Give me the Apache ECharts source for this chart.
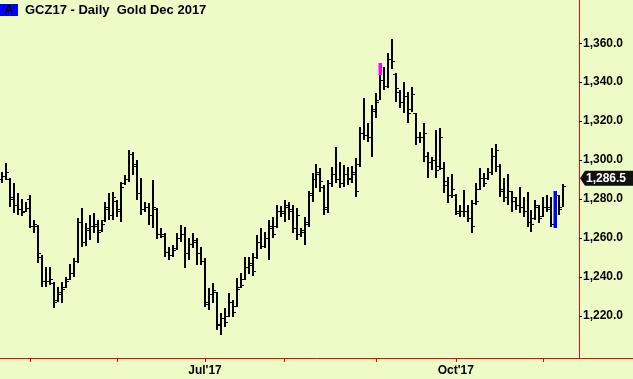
<!DOCTYPE html>
<html>
<head>
<meta charset="utf-8">
<script src="https://cdn.jsdelivr.net/npm/echarts@6.0.0/dist/echarts.min.js"></script>
<style>
html,body{margin:0;padding:0;background:#EDFCC7;}
#chart{width:633px;height:379px;}
</style>
</head>
<body>
<div id="chart"></div>
<script>
const titleText = "GCZ17 - Daily  Gold Dec 2017";
const totalSlots = 159;
const monthTickIdx = [7, 29, 51, 71, 94, 114, 136];
const monthTickLabels = ["", "", "Jul'17", "", "", "Oct'17", ""];
const yTickValues = [1220, 1240, 1260, 1280, 1300, 1320, 1340, 1360];

const opens = [1290,1292,1290,1281,1277,1275,1274,1280,1266,1266,
1250,1238,1238,1237,1228,1231,1235,1239,1242,1248,
1268,1258,1264,1266,1266,1264,1269,1275,1272,1279,
1274,1288,1290,1303,1298,1283,1275,1276,1272,1275,
1262,1261,1253,1251,1255,1260,1262,1252,1257,1258,
1252,1248,1227,1231,1232,1215,1219,1220,1227,1225,
1235,1239,1245,1246,1250,1258,1256,1260,1265,1266,
1274,1274,1276,1274,1265,1262,1263,1267,1283,1290,
1293,1286,1276,1288,1293,1290,1288,1293,1291,1293,
1298,1314,1313,1312,1326,1331,1341,1338,1352,1344,
1335,1330,1333,1326,1324,1312,1312,1302,1299,1300,
1297,1296,1289,1282,1282,1274,1274,1274,1270,1278,
1285,1291,1291,1294,1302,1297,1285,1281,1284,1279,
1277,1276,1274,1268,1270,1276,1271,1276,1276,1267,
1282,1276];
const highs = [1294.0,1298.6,1290.9,1288.3,1283.2,1280.1,1278.5,1282.1,1269.3,1266.7,
1251.3,1245.2,1245.2,1237.5,1234.9,1237.5,1240.1,1246.7,1249.8,1270.3,
1275.5,1267.8,1271.9,1272.9,1269.3,1269.3,1278.5,1283.2,1283.7,1279.6,
1288.8,1292.4,1305.2,1304.2,1300.1,1290.9,1278.5,1278.0,1289.8,1275.5,
1265.2,1262.6,1255.4,1256.5,1262.6,1266.7,1265.7,1260.1,1262.6,1260.1,
1255.4,1249.8,1234.4,1237.0,1232.4,1221.6,1224.1,1231.8,1228.2,1239.6,
1242.1,1250.3,1250.3,1252.4,1261.6,1265.2,1263.1,1269.3,1270.8,1277.0,
1276.5,1279.6,1278.5,1277.0,1275.5,1265.2,1270.8,1284.2,1293.4,1298.0,
1296.0,1287.3,1289.8,1296.5,1306.8,1299.1,1297.5,1296.5,1297.0,1301.1,
1317.0,1331.9,1319.1,1328.3,1334.5,1349.9,1347.8,1355.0,1362.2,1344.8,
1336.0,1340.1,1335.0,1337.6,1324.2,1314.5,1319.1,1304.2,1301.6,1315.5,
1316.5,1299.1,1291.4,1292.9,1282.7,1277.0,1284.7,1277.0,1279.6,1288.3,
1296.0,1293.4,1296.0,1306.3,1308.3,1298.0,1290.9,1292.9,1284.2,1281.1,
1286.2,1281.1,1283.7,1274.4,1279.6,1277.0,1281.1,1282.1,1281.1,1284.2,
1282.1,1287.8];
const lows = [1288.3,1289.8,1276.0,1272.9,1271.9,1271.4,1273.4,1265.2,1262.6,1247.2,
1234.9,1234.9,1236.0,1224.1,1227.2,1226.7,1234.4,1238.5,1240.1,1247.2,
1255.4,1256.0,1259.0,1262.6,1257.5,1263.1,1268.3,1269.3,1269.3,1270.8,
1268.3,1287.3,1288.8,1292.4,1279.6,1271.9,1273.4,1266.7,1265.2,1259.5,
1260.1,1250.3,1248.8,1250.3,1253.9,1258.0,1244.7,1248.8,1254.9,1246.2,
1246.2,1224.6,1223.1,1226.7,1212.9,1210.2,1214.4,1219.5,1219.5,1224.6,
1234.4,1238.5,1241.6,1240.6,1249.3,1254.4,1254.9,1248.8,1260.1,1265.2,
1270.8,1268.3,1269.3,1262.6,1259.0,1260.6,1256.5,1265.7,1278.5,1285.7,
1283.7,1271.9,1272.9,1286.2,1288.3,1285.7,1286.2,1287.3,1288.3,1281.1,
1296.5,1310.4,1309.3,1301.6,1321.6,1330.9,1336.0,1337.1,1346.8,1329.9,
1326.8,1324.2,1319.1,1324.7,1307.8,1308.8,1299.1,1290.9,1295.0,1290.9,
1295.0,1283.2,1278.0,1280.6,1271.9,1270.8,1270.8,1268.3,1262.6,1277.0,
1284.7,1286.2,1289.8,1292.4,1294.0,1281.1,1278.5,1277.0,1273.4,1274.4,
1272.9,1270.8,1265.7,1263.1,1269.3,1267.8,1270.8,1273.4,1265.7,1265.2,
1271.9,1276.0];
const closes = [1292,1294,1280,1277,1275,1273.5,1275.5,1266,1267,1252,
1238,1238,1239,1227,1232,1234,1238,1242,1248,1268,
1258,1265,1266,1267,1263,1267,1276,1272,1281,1275,
1286,1290,1303,1297,1283,1275,1276,1272,1276,1262,
1262,1253,1251,1254,1260,1262,1252,1257,1259,1252,
1248,1226,1231,1233,1216,1219,1217,1227,1222,1234,
1236,1245,1247,1243,1258,1256,1260,1266,1262,1274,
1273,1277,1275,1265,1272,1264,1268,1282,1290,1294,
1289,1275,1288,1293,1290,1288,1293,1290,1294,1284,
1314,1313,1312,1325,1330,1341,1338,1352,1351,1337,
1330,1333,1324,1334,1312,1312,1314,1299,1300,1295,
1312,1287,1282,1285,1273,1274,1274,1270,1266,1279,
1291,1288,1294,1302,1305,1284,1281,1284,1281,1277,
1276,1274,1268,1267,1277,1270,1276,1275,1267,1282,
1275,1286.5];

// highlighted (painted) bars
const markIdx = [95, 139];
const markTop = [1349.9, 1284.2];
const markBottom = [1343.9, 1265.2];
const markColors = ['#FF00FF', '#0000FF'];

const categories = Array.from({length: totalSlots}, (_, i) => String(i));
const ohlcData = opens.map((o, i) => [i, o, highs[i], lows[i], closes[i]]);
const markData = markIdx.map((d, i) => [d, markTop[i], markBottom[i], i]);
const lastClose = closes[closes.length - 1];

const FONT = '"Liberation Sans", Arial, sans-serif';
const chart = echarts.init(document.getElementById('chart'), null, {renderer: 'canvas'});

function headerGraphics(extra) {
  const g = [
    {type: 'rect', left: 0, top: 4, shape: {width: 18, height: 12}, style: {fill: '#0000FF'}, z: 10},
    {type: 'text', x: 9, y: 10, style: {text: 'A', fill: '#000', font: 'bold 13px ' + FONT, align: 'center', verticalAlign: 'middle'}, z: 11},
    {type: 'text', x: 25, y: 10, style: {text: titleText, fill: '#000', font: 'bold 13px ' + FONT, verticalAlign: 'middle'}, z: 11}
  ];
  return extra ? g.concat(extra) : g;
}

const option = {
  backgroundColor: '#EDFCC7',
  animation: false,
  grid: {left: -1, top: 0, width: 636, height: 358, containLabel: false},
  xAxis: {
    type: 'category',
    data: categories,
    boundaryGap: true,
    axisLine: {show: true, lineStyle: {color: '#FF0000', width: 1}},
    axisTick: {
      show: true, alignWithLabel: true, length: 4,
      lineStyle: {color: '#FF0000'},
      interval: (idx) => monthTickIdx.indexOf(idx) >= 0
    },
    axisLabel: {
      show: true, margin: 7,
      interval: (idx) => monthTickIdx.indexOf(idx) >= 0,
      formatter: (val, idx) => { const k = monthTickIdx.indexOf(idx); return k >= 0 ? monthTickLabels[k] : ''; },
      color: '#000', fontWeight: 'bold', fontSize: 12, fontFamily: FONT
    },
    splitLine: {show: false}
  },
  yAxis: {
    type: 'value',
    position: 'right',
    offset: -54,
    min: 1198.3,
    max: 1382.2,
    axisLine: {show: true, lineStyle: {color: '#FF0000', width: 1}},
    axisTick: {show: true, length: 3, lineStyle: {color: '#000'}, customValues: yTickValues},
    axisLabel: {
      show: true, margin: 4, customValues: yTickValues,
      formatter: (v) => echarts.format.addCommas(Number(v).toFixed(1)),
      color: '#000', fontWeight: 'bold', fontSize: 12, fontFamily: FONT
    },
    splitLine: {show: false}
  },
  series: [
    {
      type: 'custom',
      data: ohlcData,
      encode: {x: 0, y: [1, 2, 3, 4]},
      renderItem: (params, api) => {
        const i = api.value(0);
        const h = api.coord([i, api.value(2)]);
        const l = api.coord([i, api.value(3)]);
        const o = api.coord([i, api.value(1)]);
        const c = api.coord([i, api.value(4)]);
        const px = Math.round(h[0]);
        const oy = Math.round(o[1]) + 0.5;
        const cy = Math.round(c[1]) + 0.5;
        return {
          type: 'group',
          children: [
            {type: 'line', shape: {x1: px, y1: Math.round(h[1]), x2: px, y2: Math.round(l[1])}, style: {stroke: '#000', lineWidth: 2}},
            {type: 'line', shape: {x1: px - 3, y1: oy, x2: px - 1, y2: oy}, style: {stroke: '#000', lineWidth: 1}},
            {type: 'line', shape: {x1: px + 1, y1: cy, x2: px + 3, y2: cy}, style: {stroke: '#000', lineWidth: 1}}
          ]
        };
      },
      z: 2
    },
    {
      type: 'custom',
      data: markData,
      encode: {x: 0, y: [1, 2]},
      renderItem: (params, api) => {
        const i = api.value(0);
        const t = api.coord([i, api.value(1)]);
        const b = api.coord([i, api.value(2)]);
        const px = Math.round(t[0]);
        return {
          type: 'rect',
          shape: {x: px - 1.5, y: Math.round(t[1]), width: 3.5, height: Math.round(b[1]) - Math.round(t[1])},
          style: {fill: markColors[api.value(3)]}
        };
      },
      z: 3
    }
  ],
  graphic: headerGraphics()
};
chart.setOption(option);

// current price tag, placed just above the last close (as in the source, to clear the 1,280 label)
const yPix = chart.convertToPixel({yAxisIndex: 0}, lastClose) - 8;
chart.setOption({
  graphic: headerGraphics([
    {type: 'polygon', shape: {points: [[580, yPix], [585, yPix - 7.5], [633, yPix - 7.5], [633, yPix + 7.5], [585, yPix + 7.5]]}, style: {fill: '#111'}, z: 10},
    {type: 'text', x: 586, y: yPix, style: {text: echarts.format.addCommas(lastClose.toFixed(1)), fill: '#fff', font: 'bold 12px ' + FONT, verticalAlign: 'middle'}, z: 11}
  ])
}, {replaceMerge: ['graphic']});
</script>
</body>
</html>
